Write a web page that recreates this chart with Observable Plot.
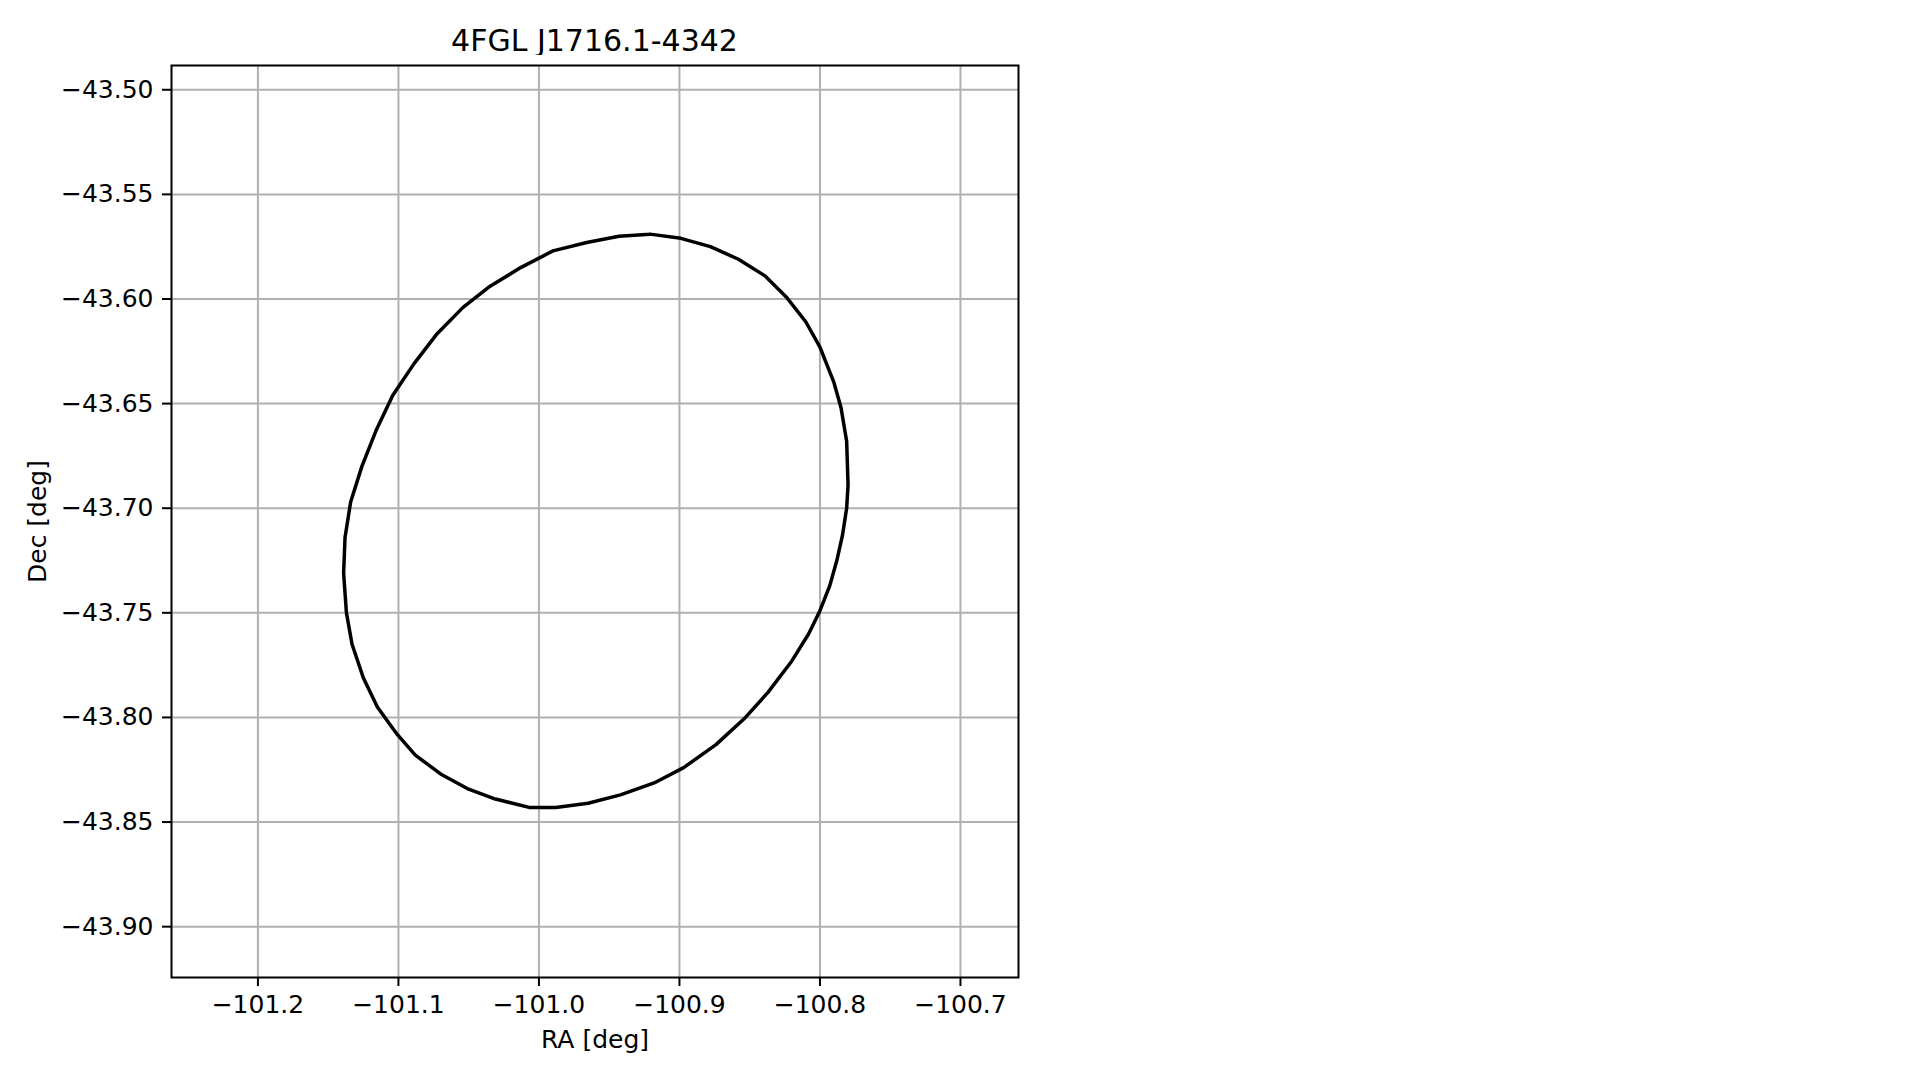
<!DOCTYPE html>
<html>
<head>
<meta charset="utf-8">
<script src="https://cdn.jsdelivr.net/npm/d3@7"></script>
<script src="https://cdn.jsdelivr.net/npm/@observablehq/plot@0.6"></script>
<style>
  html, body { margin: 0; padding: 0; background: white; }
  #wrap { width: 1919px; height: 1080px; position: relative; overflow: hidden; font-family: "DejaVu Sans", sans-serif; }
  #title { position: absolute; left: 171px; width: 847px; top: 0; height: 55px; box-sizing: border-box; padding-top: 26px; line-height: 30px; font-size: 30px; text-align: center; color: black; white-space: nowrap; }
  #chart { position: absolute; left: 0; top: 55px; }
</style>
</head>
<body>
<div id="wrap">
  <div id="title">4FGL J1716.1-4342</div>
  <div id="chart"></div>
</div>
<script>
const title = "4FGL J1716.1-4342";
const xLabel = "RA [deg]";
const yLabel = "Dec [deg]";

// Ellipse contour (RA, Dec)
const ra = [
  -100.921, -100.899, -100.878, -100.858, -100.839, -100.824, -100.810, -100.800,
  -100.790, -100.785, -100.781, -100.780, -100.781, -100.784, -100.788, -100.793,
  -100.800, -100.808, -100.820, -100.837, -100.853, -100.874, -100.897, -100.917,
  -100.942, -100.965, -100.988, -101.007, -101.031, -101.051, -101.070, -101.088,
  -101.101, -101.115, -101.125, -101.133, -101.137, -101.139, -101.138, -101.134,
  -101.126, -101.116, -101.104, -101.089, -101.073, -101.054, -101.035, -101.013,
  -100.990, -100.966, -100.943, -100.921
];
const dec = [
  -43.569, -43.571, -43.575, -43.581, -43.589, -43.599, -43.611, -43.623,
  -43.640, -43.652, -43.668, -43.689, -43.700, -43.713, -43.725, -43.737,
  -43.749, -43.760, -43.773, -43.788, -43.800, -43.813, -43.824, -43.831,
  -43.837, -43.841, -43.843, -43.843, -43.839, -43.834, -43.827, -43.818,
  -43.808, -43.795, -43.781, -43.765, -43.750, -43.731, -43.714, -43.697,
  -43.680, -43.663, -43.646, -43.631, -43.617, -43.604, -43.594, -43.585,
  -43.577, -43.573, -43.570, -43.569
];

const xTicks = [-101.2, -101.1, -101.0, -100.9, -100.8, -100.7];
const yTicks = [-43.50, -43.55, -43.60, -43.65, -43.70, -43.75, -43.80, -43.85, -43.90];
const xDomain = [-101.2615, -100.6587];
const yDomain = [-43.9243, -43.4884];

const pts = ra.map((r, i) => ({ra: r, dec: dec[i]}));

const fmtX = d3.format(".1f");
const fmtY = d3.format(".2f");

const plot = Plot.plot({
  width: 1919,
  height: 1025,
  marginLeft: 171,
  marginRight: 901,
  marginTop: 10,
  marginBottom: 103,
  style: { fontFamily: "DejaVu Sans", fontSize: "25px", background: "white", color: "black" },
  x: { domain: xDomain },
  y: { domain: yDomain },
  marks: [
    Plot.gridX(xTicks, { stroke: "#b0b0b0", strokeOpacity: 1, strokeWidth: 2 }),
    Plot.gridY(yTicks, { stroke: "#b0b0b0", strokeOpacity: 1, strokeWidth: 2 }),
    Plot.line(pts, { x: "ra", y: "dec", stroke: "black", strokeWidth: 3.5, curve: "linear" }),
    Plot.frame({ stroke: "black", strokeWidth: 2 }),
    Plot.axisX(xTicks, { tickSize: 9, tickPadding: 9, tickFormat: fmtX, strokeWidth: 2, fontSize: 25, label: null }),
    Plot.axisY(yTicks, { tickSize: 9, tickPadding: 9, tickFormat: fmtY, strokeWidth: 2, fontSize: 25, label: null }),
    Plot.text([xLabel], { frameAnchor: "bottom", text: d => d, dy: 62, fontSize: 25, textAnchor: "middle", lineAnchor: "middle", fill: "black" }),
    Plot.text([yLabel], { frameAnchor: "left", text: d => d, dx: -134, rotate: -90, fontSize: 25, textAnchor: "middle", lineAnchor: "middle", fill: "black" })
  ]
});
document.getElementById("chart").appendChild(plot);
</script>
</body>
</html>
